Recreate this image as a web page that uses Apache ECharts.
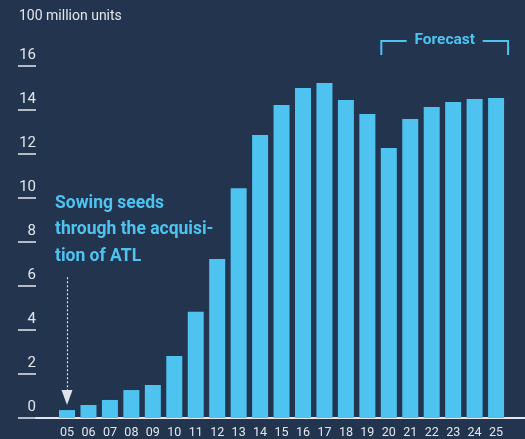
<!DOCTYPE html>
<html>
<head>
<meta charset="utf-8">
<script src="https://cdn.jsdelivr.net/npm/echarts@6/dist/echarts.min.js"></script>
<style>
  html, body { margin: 0; padding: 0; background: #23344f; }
  #chart { width: 525px; height: 439px; }
</style>
</head>
<body>
<div id="chart"></div>
<script>
// Annual shipments, 2005-2025 (2020 onward forecast), in 100 million units
const years = ['05','06','07','08','09','10','11','12','13','14','15','16','17','18','19','20','21','22','23','24','25'];
const units = [0.36, 0.59, 0.82, 1.27, 1.5, 2.82, 4.83, 7.23, 10.44, 12.86, 14.23, 15.0, 15.23, 14.45, 13.82, 12.27, 13.59, 14.14, 14.36, 14.5, 14.55];
const yTicks = [0, 2, 4, 6, 8, 10, 12, 14, 16];
const forecastFrom = '20';
const forecastTo = '25';
const noteLines = ['Sowing seeds', 'through the acquisi-', 'tion of ATL'];
const noteArrow = { year: '05', from: 6.4, to: 0.93 };

const BG = '#23344f';
const BLUE = '#4fc3f0';
const TEXT = '#e3e7ed';
const FONT = 'Roboto, "DejaVu Sans", sans-serif';

const chart = echarts.init(document.getElementById('chart'));

const option = {
  backgroundColor: BG,
  animation: false,
  title: {
    text: '100 million units',
    left: 19, top: 9, padding: 0,
    textStyle: { color: TEXT, fontFamily: FONT, fontSize: 14, fontWeight: 'normal' }
  },
  grid: [
    { left: 36, right: 0, top: 66, bottom: 21 },
    { left: 56.3, width: 450.5, top: 66, bottom: 21 }
  ],
  xAxis: [
    {
      gridIndex: 0, type: 'value', min: 0, max: 1,
      axisLine: { show: true, lineStyle: { color: TEXT, width: 2 } },
      axisTick: { show: false }, axisLabel: { show: false }, splitLine: { show: false }
    },
    {
      gridIndex: 1, type: 'category', data: years,
      axisLine: { show: false }, axisTick: { show: false },
      axisLabel: { color: TEXT, fontFamily: FONT, fontSize: 12.5, margin: 8, interval: 0 }
    }
  ],
  yAxis: [
    {
      gridIndex: 0, type: 'value', min: 0, max: 16, interval: 2,
      axisLine: { show: false },
      axisTick: { show: true, inside: false, length: 18, lineStyle: { color: TEXT, width: 1.5 } },
      axisLabel: {
        color: TEXT, fontFamily: FONT, fontSize: 15, margin: 0,
        verticalAlign: 'bottom', padding: [0, 0, 3, 0],
        formatter: v => (yTicks.includes(v) ? String(v) : '')
      },
      splitLine: { show: false }
    },
    {
      gridIndex: 1, type: 'value', min: 0, max: 16, show: false
    }
  ],
  series: [
    {
      type: 'bar',
      xAxisIndex: 1, yAxisIndex: 1,
      data: units,
      barWidth: 16,
      itemStyle: { color: BLUE },
      markLine: {
        silent: true,
        symbol: ['none', 'triangle'],
        symbolSize: [11, 15],
        label: { show: false },
        lineStyle: { color: '#dfe4ea', type: [2, 2], width: 1.2 },
        data: [[
          { coord: [noteArrow.year, noteArrow.from] },
          { coord: [noteArrow.year, noteArrow.to], itemStyle: { color: '#ffffff' } }
        ]]
      }
    }
  ]
};

chart.setOption(option);

// Forecast bracket above the projected years, placed from the category axis
const x0 = chart.convertToPixel({ xAxisIndex: 1 }, forecastFrom) - 7.5;
const x1 = chart.convertToPixel({ xAxisIndex: 1 }, forecastTo) + 12;
const mid = (x0 + x1) / 2;
const bracketStyle = { stroke: BLUE, lineWidth: 2, fill: null };

chart.setOption({
  graphic: [
    { type: 'polyline', shape: { points: [[x0, 55], [x0, 41], [mid - 38, 41]] }, style: bracketStyle },
    { type: 'polyline', shape: { points: [[mid + 38, 41], [x1, 41], [x1, 55]] }, style: bracketStyle },
    {
      type: 'text', x: mid, y: 40,
      style: { text: 'Forecast', fill: BLUE, font: 'bold 15.5px ' + FONT, align: 'center', verticalAlign: 'middle' }
    },
    {
      type: 'text', x: 55, y: 190,
      style: {
        text: noteLines.join('\n'), fill: BLUE, font: 'bold 17.5px ' + FONT,
        lineHeight: 26.5, align: 'left', verticalAlign: 'top'
      }
    }
  ]
});
</script>
</body>
</html>
